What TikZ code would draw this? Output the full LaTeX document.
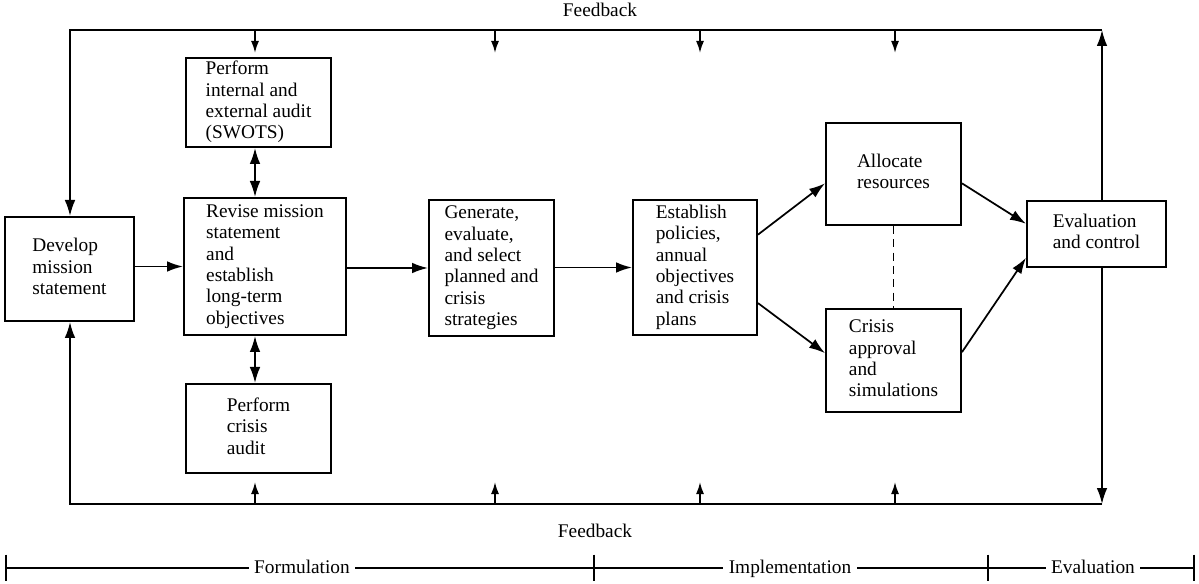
\documentclass[tikz,border=0pt]{standalone}
\usepackage{fontspec}
\setmainfont{Liberation Serif}
\usetikzlibrary{arrows.meta,calc}
\newcommand{\lines}[1]{\begin{tabular}{@{}l@{}}#1\end{tabular}}
% \procbox{name}{x1}{y1}{x2}{y2}{text}: box spanning the two corners
\newcommand{\procbox}[6]{%
  \node[box, minimum width={(#4-#2)*0.75pt}, minimum height={(#5-#3)*0.75pt}]
    (#1) at ({(#2+#4)/2},{(#3+#5)/2}) {\lines{#6}};}
\begin{document}
\begin{tikzpicture}[x=0.75pt,y=-0.75pt,
  txt/.style={font=\fontsize{14.5}{16}\selectfont},
  box/.style={draw, line width=1.5pt, inner sep=0pt, txt},
  conn/.style={line width=1.3pt},
  arr/.style={conn, -{Latex[length=12pt,width=8pt]}},
  darr/.style={conn, {Latex[length=12pt,width=8pt]}-{Latex[length=12pt,width=8pt]}},
  fbarr/.style={conn, -{Latex[length=9pt,width=6pt]}},
  phase/.style={txt, fill=white, inner xsep=4pt, inner ysep=1pt, anchor=base},
]
\useasboundingbox (0,0) rectangle (1199,584);

% process boxes
\procbox{develop}{5}{217}{134}{321}{Develop\\mission\\statement}
\procbox{swot}{186}{58}{331}{147}{Perform\\internal and\\external audit\\(SWOTS)}
\procbox{revise}{184}{198}{346}{335}{Revise mission\\statement\\and\\establish\\long-term\\objectives}
\procbox{caudit}{186}{384}{331}{473}{Perform\\crisis\\audit}
\procbox{gen}{429}{200}{554}{336}{Generate,\\evaluate,\\and select\\planned and\\crisis\\strategies}
\procbox{estab}{633}{200}{757}{335}{Establish\\policies,\\annual\\objectives\\and crisis\\plans}
\procbox{alloc}{826}{123}{961}{225}{Allocate\\resources}
\procbox{crisis}{826}{309}{961}{412}{Crisis\\approval\\and\\simulations}
\procbox{eval}{1027}{201}{1166}{267}{Evaluation\\and control}

% feedback loop corners
\coordinate (tl) at (70,30);
\coordinate (tr) at (1102,30);
\coordinate (bl) at (70,504);
\coordinate (br) at (1102,504);
\coordinate (colx) at (255,0);

\node[txt] (fbtop) at (600,10) {Feedback};
\node[txt] (fbbot) at (595,531) {Feedback};

\draw[arr] (tr) -- (tl) -- (tl |- develop.north);
\draw[arr] (br) -- (bl) -- (bl |- develop.south);
\draw[arr] (eval.north -| tr) -- (tr);
\draw[arr] (eval.south -| br) -- (br);

% short feedback arrows
\foreach \x/\n in {255/1,495/2,700/3,895/4}{
  \coordinate (ft\n) at (\x,53);
  \coordinate (fb\n) at (\x,482);
  \draw[fbarr] (ft\n |- tl) -- (ft\n);
  \draw[fbarr] (fb\n |- bl) -- (fb\n);
}

% main flow
\draw[arr] (develop.east |- revise.west) -- (revise.west);
\draw[darr] (swot.south -| colx) -- (revise.north -| colx);
\draw[darr] (revise.south -| colx) -- (caudit.north -| colx);
\draw[arr] (revise.east |- gen.west) -- (gen.west);
\draw[arr] (gen.east |- estab.west) -- (estab.west);
\draw[arr] ($(estab.north east)!0.26!(estab.south east)$) -- ($(alloc.north west)!0.59!(alloc.south west)$);
\draw[arr] ($(estab.north east)!0.76!(estab.south east)$) -- ($(crisis.north west)!0.43!(crisis.south west)$);
\draw[arr] ($(alloc.north east)!0.59!(alloc.south east)$) -- ($(eval.north west)!0.35!(eval.south west)$);
\draw[arr] ($(crisis.north east)!0.42!(crisis.south east)$) -- ($(eval.north west)!0.85!(eval.south west)$);
\draw[conn, dash pattern=on 6pt off 4pt] (alloc.south) -- (crisis.north);

% phase scale
\coordinate (t0) at (6,568);
\coordinate (t1) at (594,568);
\coordinate (t2) at (988,568);
\coordinate (t3) at (1194,568);
\draw[conn] (t0) -- (t3);
\foreach \t in {t0,t1,t2,t3}
  \draw[conn] ([yshift=10pt]\t) -- ([yshift=-10pt]\t);
\node[phase] (formulation) at (302,573) {Formulation};
\node[phase] (implementation) at (790,573) {Implementation};
\node[phase] (evaluation) at (1093,573) {Evaluation};
\end{tikzpicture}
\end{document}
